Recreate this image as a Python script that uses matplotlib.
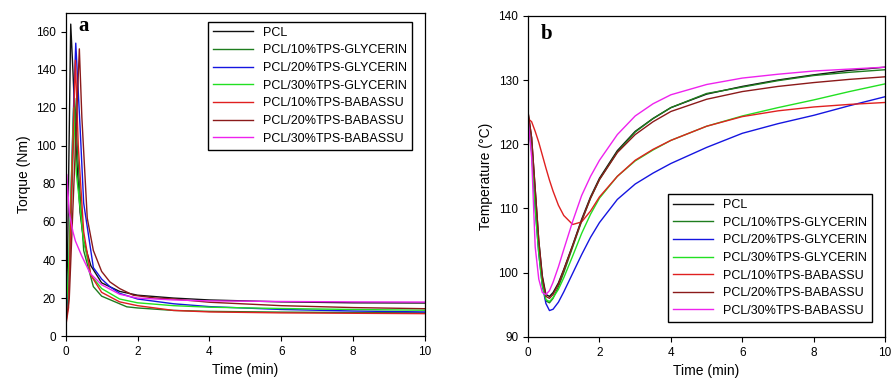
import matplotlib
matplotlib.use('Agg')
import matplotlib.pyplot as plt

plt.rcParams['font.family'] = ['Liberation Sans', 'DejaVu Sans']

labels = ['PCL', 'PCL/10%TPS-GLYCERIN', 'PCL/20%TPS-GLYCERIN', 'PCL/30%TPS-GLYCERIN',
          'PCL/10%TPS-BABASSU', 'PCL/20%TPS-BABASSU', 'PCL/30%TPS-BABASSU']
colors = ['#111111', '#1e7d1e', '#1515e0', '#22e022', '#e02020', '#8b1a1a', '#ee22ee']

# (a) torque, Nm
t_pcl_a = [0, 0.05, 0.14, 0.2, 0.3, 0.4, 0.5, 0.7, 1.0, 1.5, 2, 3, 4, 6, 8, 10]
tq_pcl = [8, 40, 164, 140, 95, 65, 50, 37, 28, 23.5, 21.5, 20, 19, 18, 17.5, 17.4]
t_g10_a = [0, 0.1, 0.25, 0.35, 0.5, 0.77, 1.0, 1.7, 2, 3, 4, 6, 8, 10]
tq_g10 = [8, 30, 125, 90, 45, 26, 21, 15.4, 14.8, 13.5, 13, 12.6, 12.4, 12.2]
t_g20_a = [0, 0.1, 0.2, 0.28, 0.4, 0.5, 0.77, 1.0, 1.23, 1.5, 2, 3, 4, 6, 8, 10]
tq_g20 = [7, 40, 110, 154, 110, 70, 36, 30, 26, 22.5, 19.5, 17, 15.5, 14, 13.2, 12.7]
t_g30_a = [0, 0.08, 0.22, 0.3, 0.5, 0.7, 1.0, 1.5, 2, 3, 4, 6, 8, 10]
tq_g30 = [9, 35, 120, 85, 50, 32, 25, 19.5, 17.5, 16, 15.2, 14.5, 14, 13.6]
t_b10_a = [0, 0.08, 0.15, 0.27, 0.35, 0.5, 0.7, 1.0, 1.5, 2, 3, 4, 6, 8, 10]
tq_b10 = [5, 15, 70, 145, 100, 55, 32, 23, 18, 16, 13.5, 12.7, 12.2, 12, 11.8]
t_b20_a = [0, 0.1, 0.25, 0.38, 0.45, 0.6, 0.77, 1.0, 1.23, 1.5, 1.88, 2.5, 3, 4, 6, 8, 10]
tq_b20 = [6, 20, 90, 151, 115, 62, 45, 34, 28.5, 25, 21.5, 20, 19.5, 17.8, 16, 15, 14.4]
t_b30_a = [0, 0.03, 0.1, 0.2, 0.27, 0.45, 0.68, 1.0, 1.5, 2, 3, 4, 6, 8, 10]
tq_b30 = [30, 85, 65, 55, 50, 42, 33, 27, 22, 20, 19, 18.5, 18.2, 18, 17.9]

# (b) temperature, degC
t_b = [0, 0.1, 0.2, 0.3, 0.4, 0.5, 0.6, 0.7, 0.85, 1.0, 1.25, 1.5, 1.75, 2, 2.5, 3, 3.5, 4, 5, 6, 7, 8, 9, 10]
T_pcl = [125, 121, 113, 105, 99.5, 96.6, 96.3, 96.9, 98.4, 100.5, 104.3, 108.3, 111.8, 114.7, 119, 122, 124, 125.7, 127.8, 129, 130, 130.8, 131.5, 132]
T_g10 = [124.5, 120, 112, 104, 98.5, 95.6, 95.3, 96.0, 97.8, 100, 104, 108, 111.6, 114.5, 118.8, 121.9, 124, 125.7, 127.9, 128.9, 129.9, 130.7, 131.2, 131.6]
T_g20 = [123.8, 119, 110, 103, 98, 95.2, 94.1, 94.3, 95.4, 97.0, 99.9, 102.8, 105.5, 107.8, 111.4, 113.8, 115.5, 117, 119.5, 121.7, 123.2, 124.5, 126, 127.4]
T_g30 = [123.5, 119, 110, 103, 98, 95.8, 95.5, 96.1, 97.4, 99.2, 102.6, 106.1, 109.1, 111.6, 115, 117.4, 119.1, 120.6, 122.8, 124.4, 125.7, 126.9, 128.2, 129.4]
T_b10 = [124, 123.5, 122, 120.3, 118.3, 116.3, 114.4, 112.7, 110.5, 108.9, 107.5, 107.9, 109.6, 111.8, 115, 117.5, 119.2, 120.6, 122.8, 124.3, 125.2, 125.8, 126.2, 126.5]
T_b20 = [125, 121, 113, 105, 99.2, 96.3, 96.0, 96.6, 98.2, 100.4, 104.2, 108.1, 111.6, 114.5, 118.7, 121.5, 123.5, 125.1, 127, 128.2, 129, 129.6, 130.1, 130.5]
T_b30 = [124, 118, 104, 99, 96.9, 96.6, 97.2, 98.5, 100.9, 103.6, 108.0, 112, 115, 117.5, 121.5, 124.4, 126.3, 127.7, 129.3, 130.3, 130.9, 131.4, 131.7, 132]

torque = [(t_pcl_a, tq_pcl), (t_g10_a, tq_g10), (t_g20_a, tq_g20), (t_g30_a, tq_g30),
          (t_b10_a, tq_b10), (t_b20_a, tq_b20), (t_b30_a, tq_b30)]
temps = [T_pcl, T_g10, T_g20, T_g30, T_b10, T_b20, T_b30]

fig = plt.figure(figsize=(8.95, 3.85), dpi=100)
ax1 = fig.add_axes([0.0734, 0.127, 0.4015, 0.840])
ax2 = fig.add_axes([0.590, 0.125, 0.399, 0.834])

for (x, y), c, lab in zip(torque, colors, labels):
    ax1.plot(x, y, color=c, lw=1.0, label=lab)
for y, c, lab in zip(temps, colors, labels):
    ax2.plot(t_b, y, color=c, lw=1.0, label=lab)

ax1.set_xlim(0, 10)
ax1.set_ylim(0, 170)
ax1.set_yticks(range(0, 161, 20))
ax1.set_ylabel('Torque (Nm)', fontsize=10)
ax1.text(0.035, 0.99, 'a', transform=ax1.transAxes, fontsize=15, fontweight='bold',
         family='Liberation Serif', va='top')
ax1.legend(loc='upper right', bbox_to_anchor=(0.964, 0.972), borderaxespad=0,
           fontsize=9, fancybox=False, edgecolor='black', framealpha=1,
           handlelength=3.2, labelspacing=0.45)

ax2.set_xlim(0, 10)
ax2.set_ylim(90, 140)
ax2.set_yticks(range(90, 141, 10))
ax2.set_ylabel('Temperature (°C)', fontsize=10)
ax2.text(0.035, 0.975, 'b', transform=ax2.transAxes, fontsize=15, fontweight='bold',
         family='Liberation Serif', va='top')
ax2.legend(loc='lower right', bbox_to_anchor=(0.963, 0.047), borderaxespad=0,
           fontsize=9, fancybox=False, edgecolor='black', framealpha=1,
           handlelength=3.2, labelspacing=0.45)

for ax in (ax1, ax2):
    ax.set_xticks(range(0, 11, 2))
    ax.set_xlabel('Time (min)', fontsize=10)
    ax.tick_params(labelsize=8.5, direction='out', length=3.5)
    for s in ax.spines.values():
        s.set_linewidth(0.9)

fig.savefig('out.png', dpi=100)
